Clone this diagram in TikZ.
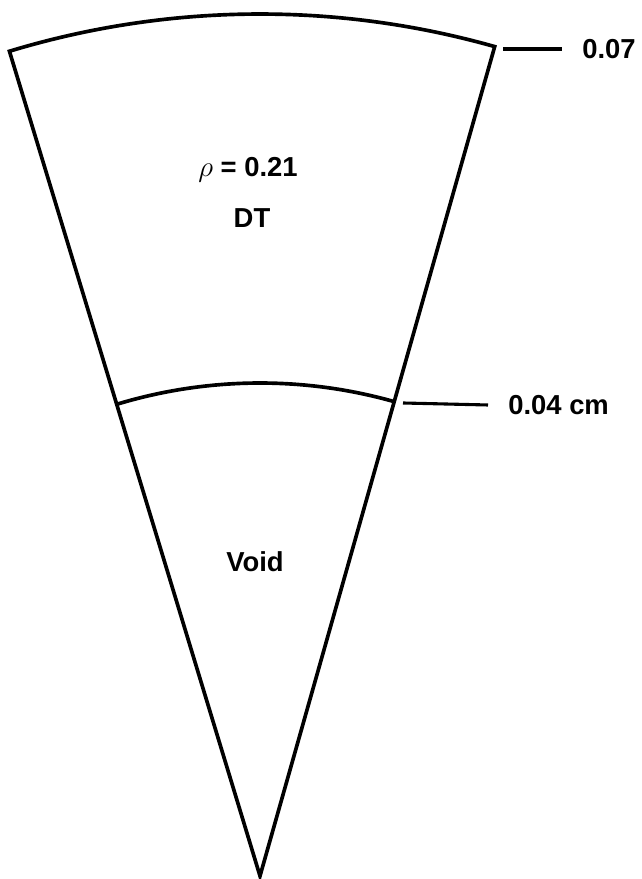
\documentclass[tikz,border=0pt]{standalone}
\usepackage{fontspec}
\setsansfont{Liberation Sans}
\usetikzlibrary{positioning}

\begin{document}
\begin{tikzpicture}[
  x=0.025cm, y=0.025cm,
  font=\sffamily\bfseries\fontsize{19.5}{22}\selectfont,
  wall/.style={draw, line width=2.6pt, line join=miter},
  lead/.style={draw, line width=2.2pt},
  lbl/.style={inner sep=0pt, align=center},
  side/.style={anchor=west, inner xsep=0.5cm, inner ysep=0pt}
]
\useasboundingbox (0,0) rectangle (642,879);

\coordinate (apex) at (260,3);

% sector: outer DT shell and inner void
\draw[wall] (apex) -- ++(106.9:862) arc[start angle=106.9, end angle=74.2, radius=862] -- cycle;
\draw[wall] (apex) ++(106.9:493) arc[start angle=106.9, end angle=74.2, radius=493];

\node[lbl] (rho) at (248,709) {$\rho$ = 0.21};
\node[lbl] (dt) at (252,661) {DT};
\node[lbl] (void) at (255,317) {Void};

% radii
\coordinate (c07) at (503,830);
\node[side] (l07) at (562,830) {0.07};
\draw[lead] (c07) -- (l07.west);

\coordinate (c04) at (403,476);
\node[side] (l04) at (488,474) {0.04 cm};
\draw[lead] (c04) -- (l04.west);

\end{tikzpicture}
\end{document}
